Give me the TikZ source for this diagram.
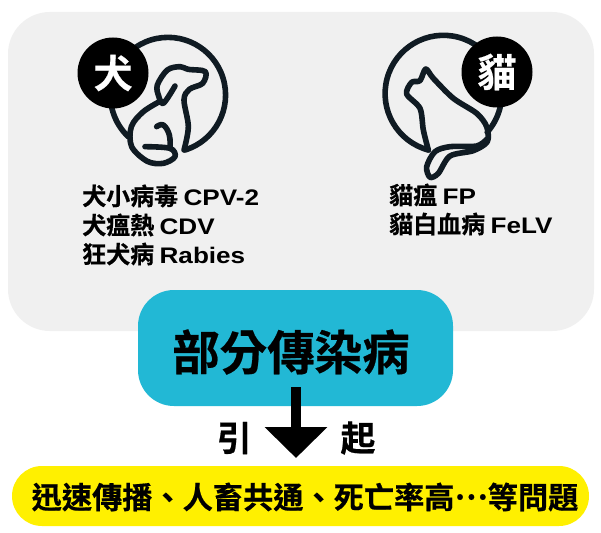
\documentclass[tikz,border=0pt]{standalone}
\usepackage{fontspec}
\setmainfont{Noto Sans CJK TC Bold}
\newfontfamily\cjkb[FakeBold=0.5]{Noto Sans CJK TC Bold}
\newfontfamily\latf[FakeStretch=1.16]{Liberation Sans Bold}
\usetikzlibrary{arrows.meta}
\definecolor{panel}{HTML}{F0F0F0}
\definecolor{tealbox}{HTML}{22B8D5}
\definecolor{yel}{HTML}{FFF000}
\definecolor{ink}{HTML}{101B23}
\newcommand{\fs}[1]{\fontsize{#1}{#1}\selectfont}
\tikzset{
  panelbox/.style={fill=panel,rounded corners=42pt},
  icon/.style={draw=ink,line width=5.6pt,line cap=round,line join=round,fill=none},
  badge/.style={circle,fill=black,text=white,inner sep=0pt,minimum size=71pt,font=\cjkb\fs{39}},
  listtext/.style={anchor=west,inner sep=0pt,text=black,font=\cjkb\fs{24}},
  causebox/.style={fill=tealbox,rounded corners=36pt,minimum width=315pt,minimum height=116pt,inner sep=0pt},
  resultbox/.style={fill=yel,rounded corners=30pt,minimum width=577pt,minimum height=60pt,inner sep=0pt},
  resulttext/.style={inner sep=0pt,font=\cjkb\fs{30.2}},
  side/.style={inner sep=0pt,font=\cjkb\fs{35}},
}
\begin{document}
\begin{tikzpicture}[x=1pt,y=-1pt]
\useasboundingbox (0,0) rectangle (601,532);
\fill[white] (0,0) rectangle (601,532);
\fill[panelbox] (8,12) rectangle (594,331);

% dog
\begin{scope}[shift={(60,20)},scale=1/3]
\draw[icon] (375,390) arc[start angle=72.8,end angle=-226.4,radius=172.8];
\draw[icon,fill=panel] plot[smooth,tension=0.55] coordinates {(372,390) (385,320) (372,240) (388,208) (428,190) (436,155) (385,148) (360,140) (322,150) (292,195) (296,228) (310,250) (345,198)};
\draw[icon] plot[smooth,tension=0.55] coordinates {(302,243) (250,275) (214,320) (215,380) (262,424) (310,430) (345,410) (330,385) (255,380)};
\draw[icon] plot[smooth,tension=0.7] coordinates {(330,385) (328,345) (310,315) (290,320)};
\end{scope}

% cat
\begin{scope}[shift={(370,20)},scale=1/3]
\draw[icon] (175,390) arc[start angle=105,end angle=401.4,radius=175];
\draw[icon] plot[smooth,tension=0.5] coordinates {(175,390) (160,330) (150,265) (110,222) (125,187) (150,182) (167,147) (190,175) (250,235) (320,280) (350,320) (352,365) (310,392) (240,408) (205,460) (180,472) (170,440) (195,395) (240,380) (320,378) (350,358)};
\end{scope}

\node[badge] (dogbadge) at (113,73) {犬};
\node[badge] (catbadge) at (497,72) {貓};

\node[listtext] (d1) at (82,196) {犬小病毒 {\latf\fs{22.5}CPV-2}};
\node[listtext] (d2) at (82,225) {犬瘟熱 {\latf\fs{22.5}CDV}};
\node[listtext] (d3) at (82,254) {狂犬病 {\latf\fs{22.5}Rabies}};
\node[listtext] (c1) at (389,195) {貓瘟 {\latf\fs{22.5}FP}};
\node[listtext] (c2) at (389,224) {貓白血病 {\latf\fs{22.5}FeLV}};

\node[causebox] (cause) at (295.5,348) {};
\node[resulttext] (causetext) at (291,352) {\cjkb\fs{47.5}部分傳染病};
\node[resultbox] (result) at (300.5,496) {};
\node[resulttext] (resulttext) at (305,497) {迅速傳播、人畜共通、死亡率高\raisebox{9pt}{⋯}等問題};
\coordinate (astart) at (296,387);
\coordinate (aend) at (296,458);
\draw[line width=10pt,draw=black,-{Triangle[width=61pt,length=31pt]}] (astart) -- (aend);
\node[side] (yin) at (234,438) {引};
\node[side] (qi) at (358,438) {起};
\end{tikzpicture}
\end{document}
